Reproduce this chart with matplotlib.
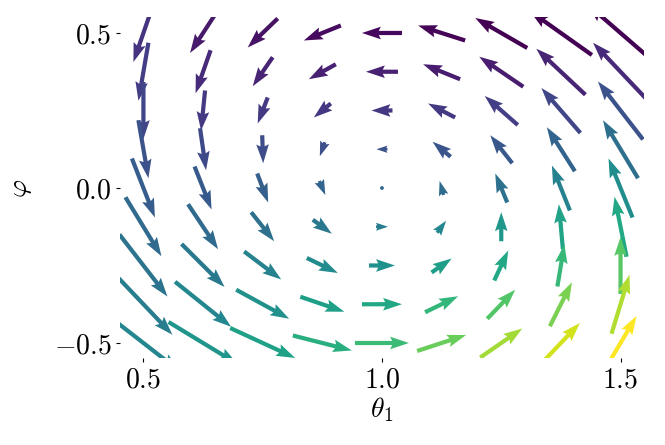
import numpy as np
import matplotlib
matplotlib.use("Agg")
import matplotlib.pyplot as plt

plt.rcParams['mathtext.fontset'] = 'cm'
plt.rcParams['font.family'] = ['DejaVu Serif']

# grid of states
theta1 = [0.5, 0.625, 0.75, 0.875, 1.0, 1.125, 1.25, 1.375, 1.5]
phi = [0.5, 0.375, 0.25, 0.125, 0.0, -0.125, -0.25, -0.375, -0.5]

# horizontal arrow component (screen pixels, right positive), rows = phi top->bottom
U = [
    [-20, -26, -30, -37, -40, -47, -52, -62, -67],
    [-10, -15, -20, -27, -32, -37, -44, -49, -55],
    [0, -4, -10, -17, -21, -27, -33, -39, -45],
    [10, 6, 1, -5, -11, -18, -22, -28, -35],
    [23, 17, 11, 6, 0, -4, -12, -18, -24],
    [36, 30, 23, 19, 12, 9, 0, -4, -12],
    [48, 43, 37, 31, 26, 20, 14, 7, 0],
    [58, 56, 53, 44, 40, 33, 28, 22, 18],
    [72, 69, 65, 59, 54, 49, 42, 38, 32],
]
# vertical arrow component (screen pixels, up positive)
V = [
    [-58, -40, -29, -15, 0, 15, 30, 44, 58],
    [-58, -43, -29, -15, 0, 15, 30, 46, 58],
    [-57, -40, -26, -14, 0, 14, 29, 45, 58],
    [-58, -42, -28, -14, 0, 15, 28, 44, 58],
    [-59, -43, -29, -14, 0, 14, 29, 45, 59],
    [-59, -45, -29, -14, 0, 12, 29, 45, 60],
    [-62, -43, -28, -15, 0, 14, 30, 42, 57],
    [-61, -45, -29, -15, 0, 16, 29, 44, 59],
    [-56, -42, -30, -15, 0, 16, 29, 40, 54],
]
# colour value (viridis, 0..1)
C = [
    [0.15, 0.07, 0.05, 0.03, 0.02, 0.01, 0.00, 0.00, 0.00],
    [0.18, 0.12, 0.10, 0.09, 0.09, 0.08, 0.08, 0.10, 0.12],
    [0.21, 0.17, 0.17, 0.16, 0.16, 0.17, 0.18, 0.21, 0.25],
    [0.25, 0.22, 0.23, 0.24, 0.25, 0.26, 0.27, 0.32, 0.36],
    [0.29, 0.28, 0.30, 0.32, 0.33, 0.35, 0.37, 0.44, 0.49],
    [0.34, 0.34, 0.37, 0.40, 0.42, 0.46, 0.53, 0.58, 0.60],
    [0.38, 0.40, 0.44, 0.48, 0.50, 0.56, 0.60, 0.67, 0.74],
    [0.42, 0.46, 0.50, 0.56, 0.60, 0.66, 0.73, 0.80, 0.88],
    [0.46, 0.52, 0.57, 0.63, 0.68, 0.77, 0.86, 0.93, 1.00],
]

xticks = [0.5, 1.0, 1.5]
xticklabels = [r'$0.5$', r'$1.0$', r'$1.5$']
yticks = [-0.5, 0.0, 0.5]
yticklabels = [r'$-0.5$', r'$0.0$', r'$0.5$']

X, Y = np.meshgrid(theta1, phi)

fig = plt.figure(figsize=(6.65, 4.45), dpi=100)
ax = fig.add_axes([0.1798, 0.1944, 0.7892, 0.7663])
ax.quiver(X, Y, np.array(U, float), np.array(V, float), np.array(C, float),
          cmap='viridis', clim=(0, 1), pivot='mid', angles='uv',
          scale_units='dots', scale=1.0, units='dots', width=4.2,
          headwidth=3, headlength=4.5, headaxislength=4.0)
ax.set_xlim(0.45, 1.55)
ax.set_ylim(-0.55, 0.55)
ax.set_xticks(xticks)
ax.set_xticklabels(xticklabels)
ax.set_yticks(yticks)
ax.set_yticklabels(yticklabels)
ax.tick_params(labelsize=20, length=3, width=0.8, pad=3)
for s in ax.spines.values():
    s.set_visible(False)
ax.set_xlabel(r'$\theta_1$', fontsize=20, labelpad=1)
ax.set_ylabel(r'$\varphi$', fontsize=20, labelpad=14)
fig.savefig('out.png', dpi=100)
